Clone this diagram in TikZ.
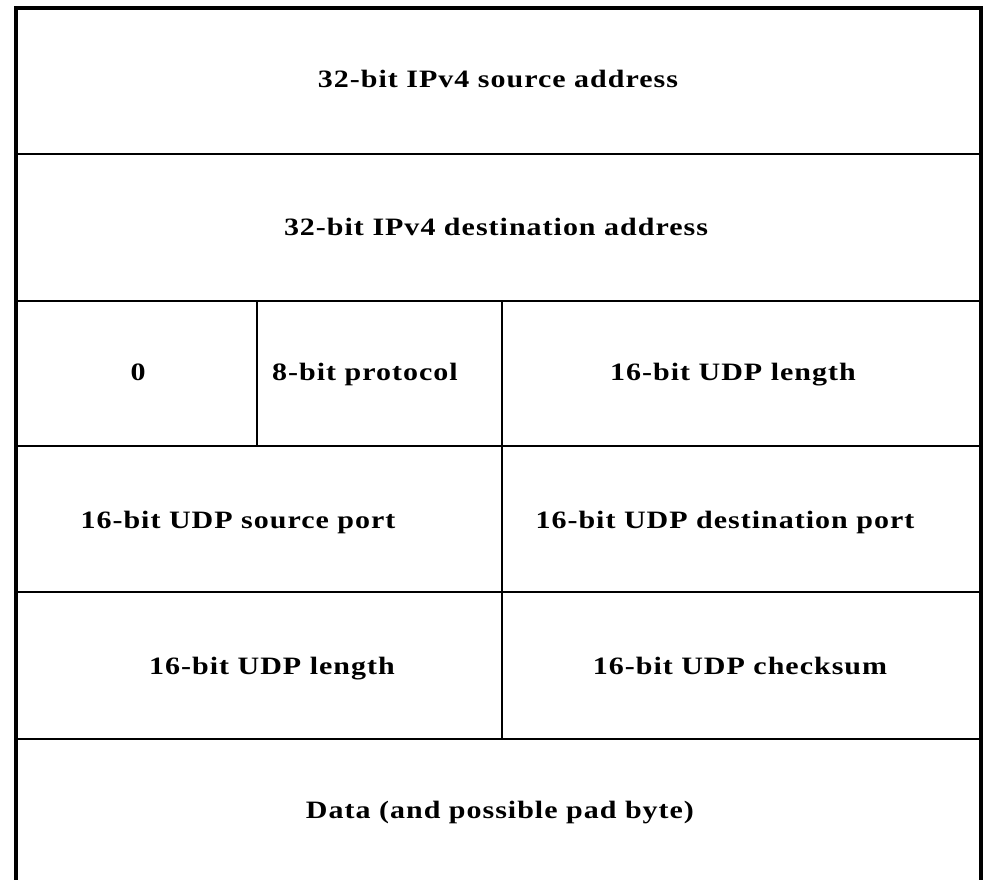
\documentclass[tikz,border=0pt]{standalone}
\usepackage{fontspec}
\setmainfont[FakeStretch=1.2,LetterSpace=4]{Liberation Serif}
\begin{document}
\begin{tikzpicture}[x=1pt,y=-1pt,
  frame/.style={line width=4pt,line cap=rect},
  rule/.style={line width=2.4pt},
  field/.style={anchor=base,inner sep=0pt,font=\fontsize{25}{28}\selectfont\bfseries}]
\useasboundingbox[fill=white] (0,0) rectangle (983,880);
\clip (0,0) rectangle (983,880);
% outer frame (bottom edge lies below the visible area)
\coordinate (tl) at (16,8);
\coordinate (tr) at (981,8);
\coordinate (bl) at (16,900);
\coordinate (br) at (981,900);
\draw[frame] (bl) -- (tl) -- (tr) -- (br);
% row separators
\foreach \y/\n in {154/a,301/b,446/c,592/d,739/e}{
  \coordinate (\n L) at (16,\y);
  \coordinate (\n R) at (981,\y);
  \draw[rule] (\n L) -- (\n R);
}
% column separators
\coordinate (v1t) at (257,301);
\coordinate (v1b) at (257,446);
\coordinate (v2t) at (502,301);
\coordinate (v2b) at (502,739);
\draw[rule] (v1t) -- (v1b);
\draw[rule] (v2t) -- (v2b);
% field labels
\node[field] (src)  at (498,88)  {32-bit IPv4 source address};
\node[field] (dst)  at (496,235) {32-bit IPv4 destination address};
\node[field] (zero) at (138,380) {0};
\node[field] (prot) at (365,380) {8-bit protocol};
\node[field] (len1) at (733,380) {16-bit UDP length};
\node[field] (sp)   at (238,528) {16-bit UDP source port};
\node[field] (dp)   at (725,528) {16-bit UDP destination port};
\node[field] (len2) at (272,674) {16-bit UDP length};
\node[field] (cks)  at (740,674) {16-bit UDP checksum};
\node[field] (data) at (500,818) {Data (and possible pad byte)};
\end{tikzpicture}
\end{document}
